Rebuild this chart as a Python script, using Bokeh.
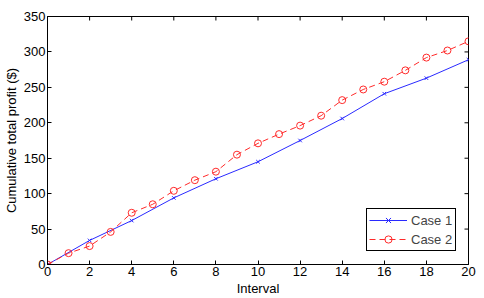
import math
from bokeh.plotting import figure
from bokeh.models import Range1d, Legend, LegendItem, FixedTicker
from bokeh.embed import file_html
from bokeh.resources import INLINE

case1_x = [0, 2, 4, 6, 8, 10, 12, 14, 16, 18, 20]
case1_y = [0, 34, 62, 94, 121, 145, 175, 206, 241, 263, 289]
case2_x = list(range(0, 21))
case2_y = [0, 16, 26, 46, 73, 85, 104, 119, 131, 155, 171, 184, 196, 210,
           232, 247, 258, 274, 292, 302, 315]
x_ticks = [0, 2, 4, 6, 8, 10, 12, 14, 16, 18, 20]
y_ticks = [0, 50, 100, 150, 200, 250, 300, 350]
x_min, x_max = 0, 20
y_min, y_max = 0, 350

FONT = "Liberation Sans"
BLUE = "#2a2aff"
RED = "#ff2a2a"

p = figure(frame_width=421, frame_height=248, output_backend="svg", toolbar_location=None,
           x_range=Range1d(x_min, x_max), y_range=Range1d(y_min, y_max),
           x_axis_label="Interval", y_axis_label="Cumulative total profit ($)",
           min_border_left=39, min_border_right=8, min_border_top=16, min_border_bottom=26)
p.grid.visible = False
p.outline_line_color = "black"
p.outline_line_width = 1
p.outline_line_alpha = 1
p.background_fill_color = "white"

for ax in p.xaxis + p.yaxis:
    ax.major_tick_in = 4
    ax.major_tick_out = 0
    ax.minor_tick_in = 0
    ax.minor_tick_out = 0
    ax.axis_line_color = "black"
    ax.major_tick_line_color = "black"
    ax.major_label_text_font = FONT
    ax.major_label_text_font_size = "13px"
    ax.major_label_text_color = "black"
    ax.axis_label_text_font = FONT
    ax.axis_label_text_font_size = "13px"
    ax.axis_label_text_font_style = "normal"
    ax.axis_label_text_color = "black"
p.xaxis.ticker = FixedTicker(ticks=x_ticks)
p.yaxis.ticker = FixedTicker(ticks=y_ticks)
p.xaxis.major_label_standoff = 2
p.yaxis.major_label_standoff = 2
p.xaxis.axis_label_standoff = 2
p.yaxis.axis_label_standoff = 2

# mirrored inward ticks on top and right edges (clipped to the frame)
p.scatter(x_ticks, [y_max] * len(x_ticks), marker="dash", angle=math.pi / 2, size=8,
          line_color="black", line_width=1)
p.scatter([x_max] * len(y_ticks), y_ticks, marker="dash", size=8,
          line_color="black", line_width=1)

l1 = p.line(case1_x, case1_y, line_color=BLUE, line_width=1)
s1 = p.scatter(case1_x, case1_y, marker="x", size=5, line_color=BLUE, line_width=1)
l2 = p.line(case2_x, case2_y, line_color=RED, line_width=1, line_dash="6 4")
s2 = p.scatter(case2_x, case2_y, marker="circle", size=7, line_color=RED,
               fill_color=None, line_width=1)

legend = Legend(items=[LegendItem(label="Case 1", renderers=[l1, s1]),
                       LegendItem(label="Case 2", renderers=[l2, s2])],
                location=(319, 13))
legend.label_text_font = FONT
legend.label_text_font_size = "13px"
legend.border_line_color = "black"
legend.border_line_width = 1
legend.border_line_alpha = 1
legend.padding = 2
legend.spacing = 1
legend.margin = 0
legend.glyph_width = 38
legend.glyph_height = 18
legend.label_height = 18
legend.label_width = 42
legend.label_standoff = 4
p.add_layout(legend, "center")

open("out.html", "w").write(file_html(p, INLINE))
